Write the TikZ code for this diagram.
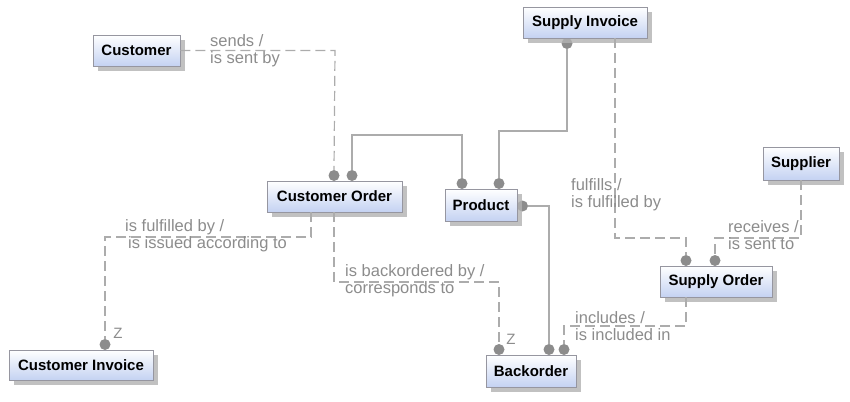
\documentclass[tikz,border=0pt]{standalone}
\usepackage{fontspec}
\setmainfont{Liberation Sans}
\usetikzlibrary{shadows}
\definecolor{boxblue}{RGB}{196,210,242}
\definecolor{boxline}{RGB}{150,150,160}
\definecolor{linegray}{RGB}{172,172,172}
\definecolor{dotgray}{RGB}{140,140,140}
\definecolor{labgray}{RGB}{140,140,140}
\tikzset{
  entity/.style={draw=boxline, line width=0.8pt, top color=white, bottom color=boxblue,
    drop shadow={shadow xshift=5pt, shadow yshift=-5pt, fill=black!30, opacity=0.8},
    inner sep=0pt, font=\bfseries\fontsize{15}{17}\selectfont, text=black},
  rel/.style={draw=linegray, line width=1.2pt},
  optrel/.style={rel, dash pattern=on 10pt off 5pt},
  dotc/.style={circle, fill=dotgray, inner sep=0pt, minimum size=11pt},
  lab/.style={anchor=west, align=left, inner sep=0pt, text=labgray, font=\fontsize{16.5}{17}\selectfont},
  zlab/.style={inner sep=0pt, text=labgray, font=\fontsize{15}{16}\selectfont}
}
\begin{document}
\begin{tikzpicture}[x=1pt,y=-1pt]
\useasboundingbox (0,0) rectangle (850,401);

\coordinate (c1) at (335,50.5);
\coordinate (c2a) at (352,135);
\coordinate (c2b) at (462,135);
\coordinate (c3a) at (567,131);
\coordinate (c3b) at (499,131);
\coordinate (c4a) at (615,38);
\coordinate (c4b) at (615,238);
\coordinate (c4c) at (686,238);
\coordinate (c5a) at (801,180);
\coordinate (c5b) at (801,238);
\coordinate (c5c) at (715,238);
\coordinate (c6a) at (311,212);
\coordinate (c6b) at (311,237);
\coordinate (c6c) at (105,237);
\coordinate (c7a) at (334,212);
\coordinate (c7b) at (334,282);
\coordinate (c7c) at (499,282);
\coordinate (c8a) at (549,206);
\coordinate (c9a) at (686,297);
\coordinate (c9b) at (686,326);
\coordinate (c9c) at (564,326);

% dots
\node[dotc] (dCO1) at (334,175.5) {};
\node[dotc] (dCO2) at (352,175.5) {};
\node[dotc] (dP1) at (462,183.5) {};
\node[dotc] (dP2) at (499,183.5) {};
\node[dotc] (dP3) at (522.5,206) {};
\node[dotc] (dSI) at (567,43.5) {};
\node[dotc] (dSO1) at (686,260.5) {};
\node[dotc] (dSO2) at (715,260.5) {};
\node[dotc] (dCI) at (105,344.5) {};
\node[dotc] (dBO1) at (499,349.5) {};
\node[dotc] (dBO2) at (549,349.5) {};
\node[dotc] (dBO3) at (564,349.5) {};

% entities
\node[entity, minimum width=87pt, minimum height=31pt] (cust) at (136.5,50.5) {Customer};
\node[entity, minimum width=135pt, minimum height=31pt] (co) at (334.5,196.5) {Customer Order};
\node[entity, minimum width=72pt, minimum height=32pt] (prod) at (481,205) {Product};
\node[entity, minimum width=124pt, minimum height=31pt] (si) at (585,22.5) {Supply Invoice};
\node[entity, minimum width=76pt, minimum height=33pt] (supp) at (801,163.5) {Supplier};
\node[entity, minimum width=112pt, minimum height=31pt] (so) at (716,281.5) {Supply Order};
\node[entity, minimum width=144pt, minimum height=30pt] (ci) at (81,365) {Customer Invoice};
\node[entity, minimum width=90pt, minimum height=32pt] (bo) at (531,371) {Backorder};

% lines
\draw[optrel] (cust.east) -- (c1) -- (dCO1.north);
\draw[rel] (dCO2.north) -- (c2a) -- (c2b) -- (dP1.north);
\draw[rel] (dSI.south) -- (c3a) -- (c3b) -- (dP2.north);
\draw[optrel] (c4a) -- (c4b) -- (c4c) -- (dSO1.north);
\draw[optrel] (c5a) -- (c5b) -- (c5c) -- (dSO2.north);
\draw[optrel] (c6a) -- (c6b) -- (c6c) -- (dCI.north);
\draw[optrel] (c7a) -- (c7b) -- (c7c) -- (dBO1.north);
\draw[rel] (dP3.east) -- (c8a) -- (dBO2.north);
\draw[optrel] (c9a) -- (c9b) -- (c9c) -- (dBO3.north);

% labels
\node[lab] (l1) at (210,51) {sends /\\is sent by};
\node[lab] (l2) at (125,236) {is fulfilled by /\\\hspace*{3pt}is issued according to};
\node[lab] (l3) at (345,281) {is backordered by /\\corresponds to};
\node[lab] (l4) at (571,195) {fulfills /\\is fulfilled by};
\node[lab] (l5) at (728,235) {receives /\\is sent to};
\node[lab] (l6) at (575,326) {includes /\\is included in};
\node[zlab] (z1) at (118,333) {Z};
\node[zlab] (z2) at (511,339) {Z};
\end{tikzpicture}
\end{document}
